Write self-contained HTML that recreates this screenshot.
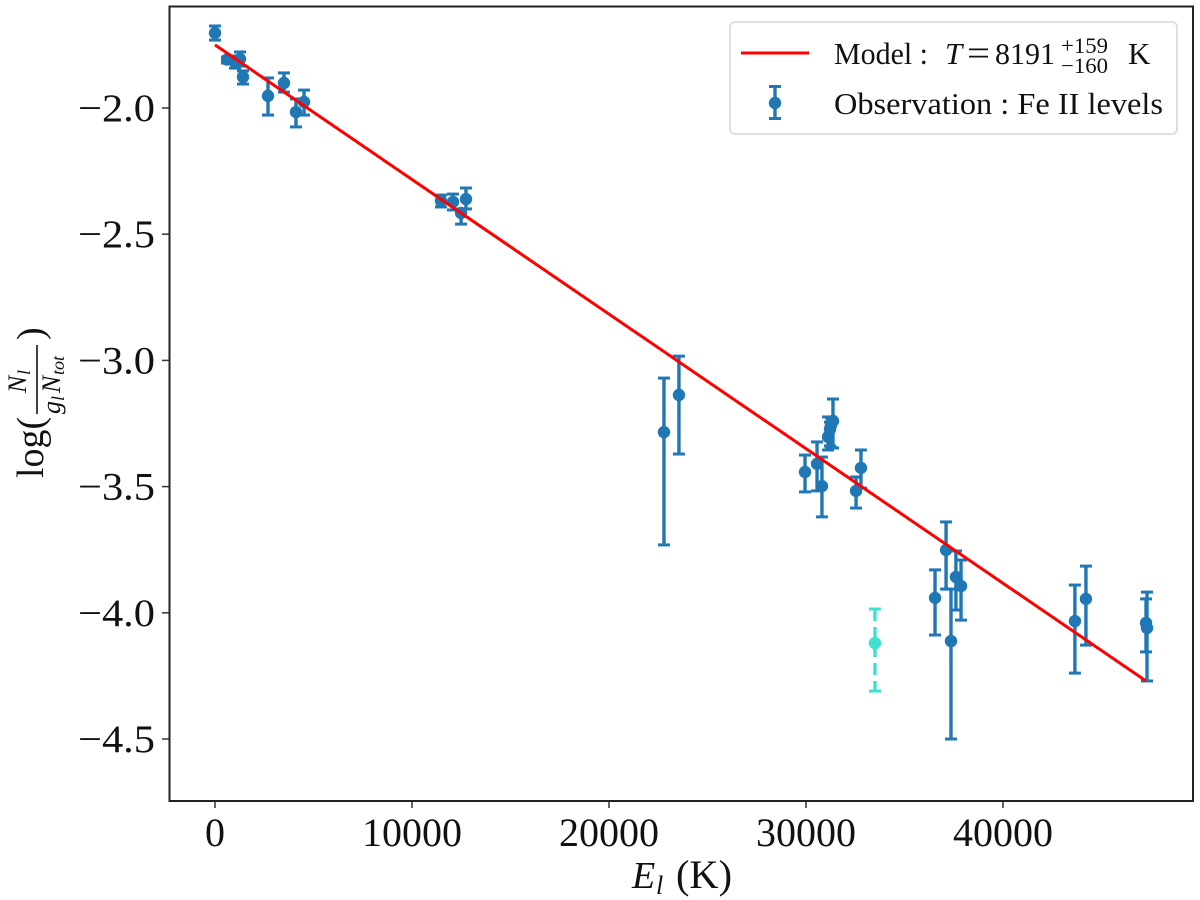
<!DOCTYPE html>
<html>
<head>
<meta charset="utf-8">
<style>
html,body{margin:0;padding:0;background:#fff;}
svg{display:block;font-family:"Liberation Serif",serif;}
</style>
</head>
<body>
<svg id="chart" width="1200" height="900" viewBox="0 0 1200 900" xmlns="http://www.w3.org/2000/svg">
  <rect x="0" y="0" width="1200" height="900" fill="#fff"/>
  <g id="ticks"></g>
  <g id="marks"></g>
  <rect x="169.5" y="6.5" width="1023.5" height="794.5" fill="none" stroke="#222" stroke-width="2"/>

  <g>
    <rect x="730" y="22" width="447" height="112" rx="5" fill="#fff" fill-opacity="0.8" stroke="#d6d6d6" stroke-width="1.5"/>
    <line x1="741" y1="53" x2="809" y2="53" stroke="#ff0000" stroke-width="3"/>
    <text x="834" y="64" font-size="31" textLength="94" lengthAdjust="spacingAndGlyphs" fill="#111">Model :</text>
    <text x="945" y="64" font-size="31" font-style="italic" fill="#111">T</text>
    <text x="967" y="65" font-size="36" textLength="23" lengthAdjust="spacingAndGlyphs" fill="#111">=</text>
    <text x="995" y="64" font-size="31" textLength="60" lengthAdjust="spacingAndGlyphs" fill="#111">8191</text>
    <text x="1061" y="53" font-size="22" textLength="47" lengthAdjust="spacingAndGlyphs" fill="#111">+159</text>
    <text x="1061" y="73" font-size="22" textLength="47" lengthAdjust="spacingAndGlyphs" fill="#111">−160</text>
    <text x="1128" y="64" font-size="31" fill="#111">K</text>
    <line x1="775" y1="86" x2="775" y2="119" stroke="#1f77b4" stroke-width="3.4"/>
    <line x1="769" y1="86.5" x2="781" y2="86.5" stroke="#1f77b4" stroke-width="3"/>
    <line x1="769" y1="118.5" x2="781" y2="118.5" stroke="#1f77b4" stroke-width="3"/>
    <circle cx="775" cy="103" r="6.2" fill="#1f77b4"/>
    <text x="834" y="114" font-size="31" textLength="329" lengthAdjust="spacingAndGlyphs" fill="#111">Observation : Fe II levels</text>
  </g>

  <g>
    <text x="632" y="888" font-size="38" font-style="italic" fill="#111">E</text>
    <text x="656" y="894" font-size="26" font-style="italic" fill="#111">l</text>
    <text x="676" y="888" font-size="40" textLength="56" lengthAdjust="spacingAndGlyphs" fill="#111">(K)</text>
  </g>

  <g transform="translate(43,478) rotate(-90)">
    <text x="0" y="0" font-size="38" fill="#111">log(</text>
    <line x1="64" y1="-6" x2="133" y2="-6" stroke="#111" stroke-width="1.6"/>
    <text x="85" y="-17" font-size="26" font-style="italic" fill="#111">N</text>
    <text x="103" y="-13" font-size="18" font-style="italic" fill="#111">l</text>
    <text x="64" y="17" font-size="26" font-style="italic" fill="#111">g</text>
    <text x="77" y="21" font-size="18" font-style="italic" fill="#111">l</text>
    <text x="85" y="17" font-size="26" font-style="italic" fill="#111">N</text>
    <text x="103" y="21" font-size="18" font-style="italic" fill="#111">tot</text>
    <text x="138" y="0" font-size="38" fill="#111">)</text>
  </g>
</svg>
<script>
var xTickValues = [0, 10000, 20000, 30000, 40000];
var xTickLabels = ["0", "10000", "20000", "30000", "40000"];
var yTickValues = [-2.0, -2.5, -3.0, -3.5, -4.0, -4.5];
var yTickLabels = ["−2.0", "−2.5", "−3.0", "−3.5", "−4.0", "−4.5"];

var levelEnergy = [0, 610, 1015, 1270, 1420, 2690, 3500, 4110, 4520, 11470, 12080, 12490, 12740, 22790, 23550, 29950, 30560, 30810, 31120, 31220, 31270, 31370, 32540, 32790, 36550, 37110, 37360, 37610, 37870, 43650, 44210, 47260, 47310];
var levelValue = [-1.703, -1.808, -1.818, -1.806, -1.877, -1.952, -1.901, -2.016, -1.976, -2.368, -2.372, -2.416, -2.361, -3.284, -3.137, -3.442, -3.410, -3.498, -3.303, -3.272, -3.256, -3.240, -3.517, -3.426, -3.941, -3.751, -4.112, -3.858, -3.894, -4.033, -3.945, -4.040, -4.060];
var levelUpper = [-1.675, -1.798, -1.794, -1.778, -1.853, -1.881, -1.861, -1.964, -1.929, -2.345, -2.341, -2.400, -2.317, -3.070, -2.983, -3.375, -3.323, -3.383, -3.224, -3.244, -3.228, -3.153, -3.462, -3.355, -3.830, -3.640, -3.906, -3.755, -3.791, -3.890, -3.815, -3.945, -3.918];
var levelLower = [-1.731, -1.822, -1.842, -1.834, -1.905, -2.028, -1.937, -2.075, -2.028, -2.392, -2.404, -2.460, -2.400, -3.731, -3.371, -3.521, -3.517, -3.620, -3.355, -3.339, -3.345, -3.347, -3.585, -3.506, -4.088, -3.906, -4.500, -3.989, -4.029, -4.239, -4.128, -4.155, -4.270];

var outlierEnergy = [33500];
var outlierValue = [-4.120];
var outlierUpper = [-3.985];
var outlierLower = [-4.310];

var modelEnergy = [0, 47260];
var modelValue = [-1.750, -4.270];

var NS = "http://www.w3.org/2000/svg";
function xScale(v) { return 215 + v * 0.0197; }
function yScale(v) { return 108 + (-2 - v) * 252.4; }

function make(tag, parent, attrs) {
  var el = document.createElementNS(NS, tag);
  for (var k in attrs) { el.setAttribute(k, attrs[k]); }
  parent.appendChild(el);
  return el;
}

var ticksLayer = document.getElementById("ticks");
var marksLayer = document.getElementById("marks");

xTickValues.forEach(function (v, i) {
  var px = xScale(v);
  var tick = make("line", ticksLayer, { x1: px, x2: px, y1: 801, y2: 808, stroke: "#333", "stroke-width": 1.5 });
  
  
  var label = make("text", ticksLayer, { x: px, y: 846, "text-anchor": "middle", "font-size": 40, fill: "#111" });
  
  
  label.textContent = xTickLabels[i];
});

yTickValues.forEach(function (v, i) {
  var py = yScale(v);
  var tick = make("line", ticksLayer, { x1: 162, x2: 169, y1: py, y2: py, stroke: "#333", "stroke-width": 1.5 });
  
  
  var label = make("text", ticksLayer, { x: 78, y: py + 13, "font-size": 39, textLength: 77, lengthAdjust: "spacingAndGlyphs", fill: "#111" });
  
  
  label.textContent = yTickLabels[i];
});

function drawSeries(energy, value, upper, lower, color, dash) {
  energy.forEach(function (e, i) {
    var px = xScale(e);
    var stem = make("line", marksLayer, { x1: px, x2: px, y1: yScale(upper[i]), y2: yScale(lower[i]), stroke: color, "stroke-width": 3.4 });
    if (dash) { stem.setAttribute("stroke-dasharray", dash); }
    
    
    var capTop = make("line", marksLayer, { x1: px - 6, x2: px + 6, y1: yScale(upper[i]), y2: yScale(upper[i]), stroke: color, "stroke-width": 3 });
    
    
    var capBottom = make("line", marksLayer, { x1: px - 6, x2: px + 6, y1: yScale(lower[i]), y2: yScale(lower[i]), stroke: color, "stroke-width": 3 });
    
    
    var dot = make("circle", marksLayer, { cx: px, cy: yScale(value[i]), r: 6.2, fill: color });
    
    
  });
}

drawSeries(levelEnergy, levelValue, levelUpper, levelLower, "#1f77b4", null);
drawSeries(outlierEnergy, outlierValue, outlierUpper, outlierLower, "#40e0d0", "12 6");

var modelPoints = modelEnergy.map(function (e, i) { return xScale(e) + "," + yScale(modelValue[i]); }).join(" ");
var modelLine = make("polyline", marksLayer, { points: modelPoints, fill: "none", stroke: "#ff0000", "stroke-width": 3 });


</script>
</body>
</html>
